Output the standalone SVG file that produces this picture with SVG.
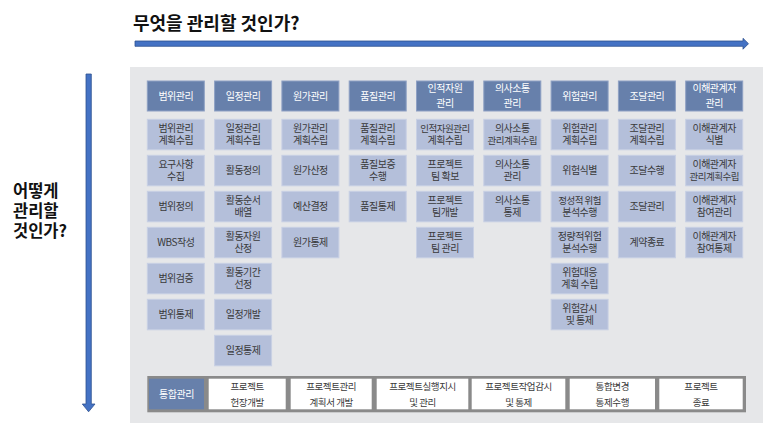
<svg xmlns="http://www.w3.org/2000/svg" width="769" height="425" viewBox="0 0 769 425">
<style>
text{font-family:"Noto Sans CJK KR","Noto Sans",sans-serif;text-anchor:middle}
.h{fill:#6780ab;stroke:#8ea0c4;stroke-width:1}
.s{fill:#b4bfda;stroke:#c8d0e4;stroke-width:1}
.w{fill:#ffffff}
.ht{fill:#ffffff;font-size:10px;letter-spacing:-0.5px}
.st{fill:#3a3a3a;font-size:10px;letter-spacing:-0.5px}
.sm{font-size:9.5px}
.bt{fill:#3a3a3a;font-size:9.5px;letter-spacing:-0.4px}
.ax{fill:#4472c4;stroke:#2f528f;stroke-width:0.8}
.big{fill:#111111;font-weight:bold;text-anchor:start}
</style>
<rect x="0" y="0" width="769" height="425" fill="#ffffff"/>
<rect x="130" y="67" width="633" height="356" fill="#e6e7e9"/>
<text class="big" x="133" y="29.5" font-size="18">무엇을 관리할 것인가?</text>
<text class="big" font-size="16.5"><tspan x="13" y="197">어떻게</tspan><tspan x="13" y="217">관리할</tspan><tspan x="13" y="237">것인가?</tspan></text>
<g id="connectors">
<path class="ax" d="M135,41 L743,41 L743,38.3 L748.5,43.7 L743,49.2 L743,46.3 L135,46.3 Z"/>
<path class="ax" d="M86,74 L91.3,74 L91.3,404 L95,404 L88.6,411.8 L82.3,404 L86,404 Z"/>
</g>
<g id="col-scope">
<rect class="h" x="147.3" y="81" width="57" height="30"/><text class="ht" x="175.8" y="99.6">범위관리</text>
<rect class="s" x="147.3" y="119.3" width="57" height="30.5"/><text class="st"><tspan x="175.8" y="131.9">범위관리</tspan><tspan x="175.8" y="144.4">계획수립</tspan></text>
<rect class="s" x="147.3" y="155.3" width="57" height="30.5"/><text class="st"><tspan x="175.8" y="167.9">요구사항</tspan><tspan x="175.8" y="180.4">수집</tspan></text>
<rect class="s" x="147.3" y="191.3" width="57" height="30.5"/><text class="st" x="175.8" y="210.2">범위정의</text>
<rect class="s" x="147.3" y="227.3" width="57" height="30.5"/><text class="st" x="175.8" y="246.2">WBS작성</text>
<rect class="s" x="147.3" y="263.3" width="57" height="30.5"/><text class="st" x="175.8" y="282.2">범위검증</text>
<rect class="s" x="147.3" y="299.3" width="57" height="30.5"/><text class="st" x="175.8" y="318.2">범위통제</text>
</g>
<g id="col-schedule">
<rect class="h" x="214.6" y="81" width="57" height="30"/><text class="ht" x="243.1" y="99.6">일정관리</text>
<rect class="s" x="214.6" y="119.3" width="57" height="30.5"/><text class="st"><tspan x="243.1" y="131.9">일정관리</tspan><tspan x="243.1" y="144.4">계획수립</tspan></text>
<rect class="s" x="214.6" y="155.3" width="57" height="30.5"/><text class="st" x="243.1" y="174.2">활동정의</text>
<rect class="s" x="214.6" y="191.3" width="57" height="30.5"/><text class="st"><tspan x="243.1" y="203.9">활동순서</tspan><tspan x="243.1" y="216.4">배열</tspan></text>
<rect class="s" x="214.6" y="227.3" width="57" height="30.5"/><text class="st"><tspan x="243.1" y="239.9">활동자원</tspan><tspan x="243.1" y="252.4">산정</tspan></text>
<rect class="s" x="214.6" y="263.3" width="57" height="30.5"/><text class="st"><tspan x="243.1" y="275.9">활동기간</tspan><tspan x="243.1" y="288.4">선정</tspan></text>
<rect class="s" x="214.6" y="299.3" width="57" height="30.5"/><text class="st" x="243.1" y="318.2">일정개발</text>
<rect class="s" x="214.6" y="335.3" width="57" height="30.5"/><text class="st" x="243.1" y="354.2">일정통제</text>
</g>
<g id="col-cost">
<rect class="h" x="281.9" y="81" width="57" height="30"/><text class="ht" x="310.4" y="99.6">원가관리</text>
<rect class="s" x="281.9" y="119.3" width="57" height="30.5"/><text class="st"><tspan x="310.4" y="131.9">원가관리</tspan><tspan x="310.4" y="144.4">계획수립</tspan></text>
<rect class="s" x="281.9" y="155.3" width="57" height="30.5"/><text class="st" x="310.4" y="174.2">원가산정</text>
<rect class="s" x="281.9" y="191.3" width="57" height="30.5"/><text class="st" x="310.4" y="210.2">예산결정</text>
<rect class="s" x="281.9" y="227.3" width="57" height="30.5"/><text class="st" x="310.4" y="246.2">원가통제</text>
</g>
<g id="col-quality">
<rect class="h" x="349.2" y="81" width="57" height="30"/><text class="ht" x="377.7" y="99.6">품질관리</text>
<rect class="s" x="349.2" y="119.3" width="57" height="30.5"/><text class="st"><tspan x="377.7" y="131.9">품질관리</tspan><tspan x="377.7" y="144.4">계획수립</tspan></text>
<rect class="s" x="349.2" y="155.3" width="57" height="30.5"/><text class="st"><tspan x="377.7" y="167.9">품질보증</tspan><tspan x="377.7" y="180.4">수행</tspan></text>
<rect class="s" x="349.2" y="191.3" width="57" height="30.5"/><text class="st" x="377.7" y="210.2">품질통제</text>
</g>
<g id="col-hr">
<rect class="h" x="416.5" y="81" width="57" height="30"/><text class="ht"><tspan x="445" y="92.1">인적자원</tspan><tspan x="445" y="107.1">관리</tspan></text>
<rect class="s" x="416.5" y="119.3" width="57" height="30.5"/><text class="st"><tspan class="sm" x="445" y="131.9">인적자원관리</tspan><tspan x="445" y="144.4">계획수립</tspan></text>
<rect class="s" x="416.5" y="155.3" width="57" height="30.5"/><text class="st"><tspan x="445" y="167.9">프로젝트</tspan><tspan x="445" y="180.4">팀 확보</tspan></text>
<rect class="s" x="416.5" y="191.3" width="57" height="30.5"/><text class="st"><tspan x="445" y="203.9">프로젝트</tspan><tspan x="445" y="216.4">팀개발</tspan></text>
<rect class="s" x="416.5" y="227.3" width="57" height="30.5"/><text class="st"><tspan x="445" y="239.9">프로젝트</tspan><tspan x="445" y="252.4">팀 관리</tspan></text>
</g>
<g id="col-comm">
<rect class="h" x="483.8" y="81" width="57" height="30"/><text class="ht"><tspan x="512.3" y="92.1">의사소통</tspan><tspan x="512.3" y="107.1">관리</tspan></text>
<rect class="s" x="483.8" y="119.3" width="57" height="30.5"/><text class="st"><tspan x="512.3" y="131.9">의사소통</tspan><tspan class="sm" x="512.3" y="144.4">관리계획수립</tspan></text>
<rect class="s" x="483.8" y="155.3" width="57" height="30.5"/><text class="st"><tspan x="512.3" y="167.9">의사소통</tspan><tspan x="512.3" y="180.4">관리</tspan></text>
<rect class="s" x="483.8" y="191.3" width="57" height="30.5"/><text class="st"><tspan x="512.3" y="203.9">의사소통</tspan><tspan x="512.3" y="216.4">통제</tspan></text>
</g>
<g id="col-risk">
<rect class="h" x="551.1" y="81" width="57" height="30"/><text class="ht" x="579.6" y="99.6">위험관리</text>
<rect class="s" x="551.1" y="119.3" width="57" height="30.5"/><text class="st"><tspan x="579.6" y="131.9">위험관리</tspan><tspan x="579.6" y="144.4">계획수립</tspan></text>
<rect class="s" x="551.1" y="155.3" width="57" height="30.5"/><text class="st" x="579.6" y="174.2">위험식별</text>
<rect class="s" x="551.1" y="191.3" width="57" height="30.5"/><text class="st"><tspan class="sm" x="579.6" y="203.9">정성적 위험</tspan><tspan x="579.6" y="216.4">분석수행</tspan></text>
<rect class="s" x="551.1" y="227.3" width="57" height="30.5"/><text class="st"><tspan x="579.6" y="239.9">정량적위험</tspan><tspan x="579.6" y="252.4">분석수행</tspan></text>
<rect class="s" x="551.1" y="263.3" width="57" height="30.5"/><text class="st"><tspan x="579.6" y="275.9">위험대응</tspan><tspan x="579.6" y="288.4">계획 수립</tspan></text>
<rect class="s" x="551.1" y="299.3" width="57" height="30.5"/><text class="st"><tspan x="579.6" y="311.9">위험감시</tspan><tspan x="579.6" y="324.4">및 통제</tspan></text>
</g>
<g id="col-procurement">
<rect class="h" x="618.4" y="81" width="57" height="30"/><text class="ht" x="646.9" y="99.6">조달관리</text>
<rect class="s" x="618.4" y="119.3" width="57" height="30.5"/><text class="st"><tspan x="646.9" y="131.9">조달관리</tspan><tspan x="646.9" y="144.4">계획수립</tspan></text>
<rect class="s" x="618.4" y="155.3" width="57" height="30.5"/><text class="st" x="646.9" y="174.2">조달수행</text>
<rect class="s" x="618.4" y="191.3" width="57" height="30.5"/><text class="st" x="646.9" y="210.2">조달관리</text>
<rect class="s" x="618.4" y="227.3" width="57" height="30.5"/><text class="st" x="646.9" y="246.2">계약종료</text>
</g>
<g id="col-stakeholder">
<rect class="h" x="685.7" y="81" width="57" height="30"/><text class="ht"><tspan x="714.2" y="92.1">이해관계자</tspan><tspan x="714.2" y="107.1">관리</tspan></text>
<rect class="s" x="685.7" y="119.3" width="57" height="30.5"/><text class="st"><tspan x="714.2" y="131.9">이해관계자</tspan><tspan x="714.2" y="144.4">식별</tspan></text>
<rect class="s" x="685.7" y="155.3" width="57" height="30.5"/><text class="st"><tspan x="714.2" y="167.9">이해관계자</tspan><tspan class="sm" x="714.2" y="180.4">관리계획수립</tspan></text>
<rect class="s" x="685.7" y="191.3" width="57" height="30.5"/><text class="st"><tspan x="714.2" y="203.9">이해관계자</tspan><tspan x="714.2" y="216.4">참여관리</tspan></text>
<rect class="s" x="685.7" y="227.3" width="57" height="30.5"/><text class="st"><tspan x="714.2" y="239.9">이해관계자</tspan><tspan x="714.2" y="252.4">참여통제</tspan></text>
</g>
<g id="integration">
<rect x="147.3" y="376" width="598.7" height="36.3" fill="#8a8a8a"/>
<rect x="149" y="378.7" width="55" height="30.6" fill="#6780ab"/><text class="ht" x="176.5" y="397.6">통합관리</text>
<rect class="w" x="208.7" y="378.7" width="77" height="30.6"/><text class="bt"><tspan x="247.2" y="390.3">프로젝트</tspan><tspan x="247.2" y="406.3">헌장개발</tspan></text>
<rect class="w" x="290.7" y="378.7" width="81" height="30.6"/><text class="bt"><tspan x="331.2" y="390.3">프로젝트관리</tspan><tspan x="331.2" y="406.3">계획서 개발</tspan></text>
<rect class="w" x="376.7" y="378.7" width="91.6" height="30.6"/><text class="bt"><tspan x="422.5" y="390.3">프로젝트실행지시</tspan><tspan x="422.5" y="406.3">및 관리</tspan></text>
<rect class="w" x="471.7" y="378.7" width="93.6" height="30.6"/><text class="bt"><tspan x="518.5" y="390.3">프로젝트작업감시</tspan><tspan x="518.5" y="406.3">및 통제</tspan></text>
<rect class="w" x="569.7" y="378.7" width="85.3" height="30.6"/><text class="bt"><tspan x="612.3" y="390.3">통합변경</tspan><tspan x="612.3" y="406.3">통제수행</tspan></text>
<rect class="w" x="659.3" y="378.7" width="83.4" height="30.6"/><text class="bt"><tspan x="701" y="390.3">프로젝트</tspan><tspan x="701" y="406.3">종료</tspan></text>
</g>
</svg>
